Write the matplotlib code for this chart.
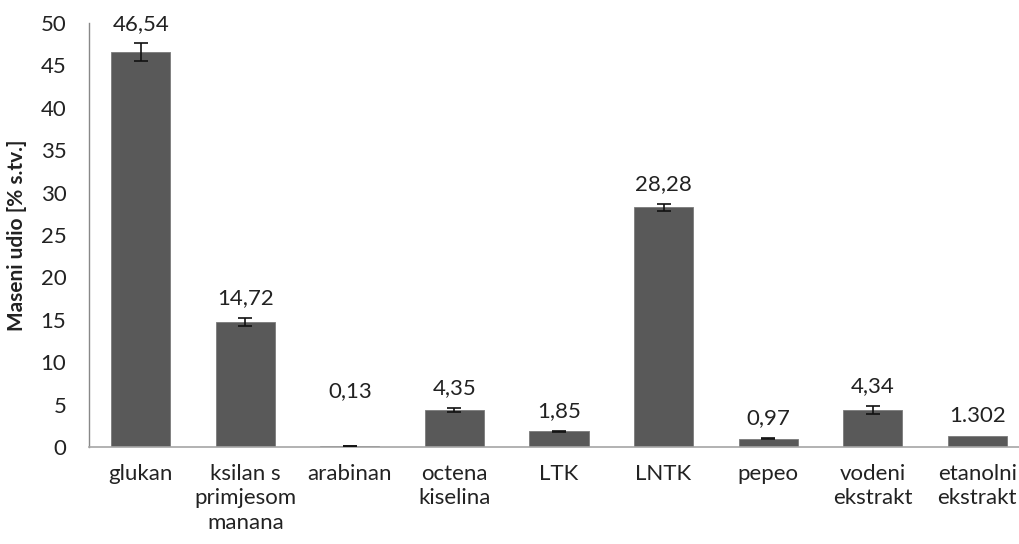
import matplotlib
matplotlib.use("Agg")
import matplotlib.pyplot as plt
import numpy as np

categories = ["glukan", "ksilan s\nprimjesom\nmanana", "arabinan", "octena\nkiselina",
              "LTK", "LNTK", "pepeo", "vodeni\nekstrakt", "etanolni\nekstrakt"]
values = [46.54, 14.72, 0.13, 4.35, 1.85, 28.28, 0.97, 4.34, 1.302]
errors = [1.05, 0.5, 0.03, 0.22, 0.06, 0.42, 0.06, 0.47, 0.0]
value_labels = ["46,54", "14,72", "0,13", "4,35", "1,85", "28,28", "0,97", "4,34", "1.302"]
yticks = [0, 5, 10, 15, 20, 25, 30, 35, 40, 45, 50]

plt.rcParams['font.family'] = ['Lato', 'DejaVu Sans']

fig = plt.figure(figsize=(10.19, 5.44), dpi=100)
ax = fig.add_axes([88.5 / 1019, 1 - 447 / 544, (1029.5 - 88.5) / 1019, (447 - 23) / 544])

x = np.arange(len(categories))
ax.bar(x, values, width=0.565, color="#595959", edgecolor="#7a7a7a", linewidth=0.6, zorder=2)
xe = [xi for xi, e in zip(x, errors) if e > 0]
ve = [v for v, e in zip(values, errors) if e > 0]
ee = [e for e in errors if e > 0]
ax.errorbar(xe, ve, yerr=ee, fmt="none", ecolor="#111111", elinewidth=1.2,
            capsize=5, capthick=1.2, zorder=3)

label_extra = [0, 0, 25, 0, 0, 0, 0, 0, 0]
for xi, v, e, lab, ex in zip(x, values, errors, value_labels, label_extra):
    ax.annotate(lab, xy=(xi, v + e), xytext=(0, 7 + ex), textcoords="offset points",
                ha="center", va="bottom", fontsize=16, color="#222222")

ax.set_xlim(-0.5, len(categories) - 0.5)
ax.set_ylim(0, 50)
ax.set_yticks(yticks)
ax.set_yticklabels([str(t) for t in yticks])
ax.set_xticks(x)
ax.set_xticklabels(categories, linespacing=1.3)
ax.tick_params(axis="y", length=0, pad=16, labelsize=16, colors="#222222")
ax.tick_params(axis="x", length=0, pad=12, labelsize=16, colors="#222222")

for s in ["top", "right"]:
    ax.spines[s].set_visible(False)
ax.spines["left"].set_color("#888888")
ax.spines["bottom"].set_color("#a6a6a6")
ax.spines["left"].set_linewidth(1.0)
ax.spines["bottom"].set_linewidth(1.2)

ax.set_ylabel("Maseni udio [% s.tv.]", fontsize=15, fontweight="bold", color="#222222", labelpad=10)

fig.savefig("out.png", dpi=100)
